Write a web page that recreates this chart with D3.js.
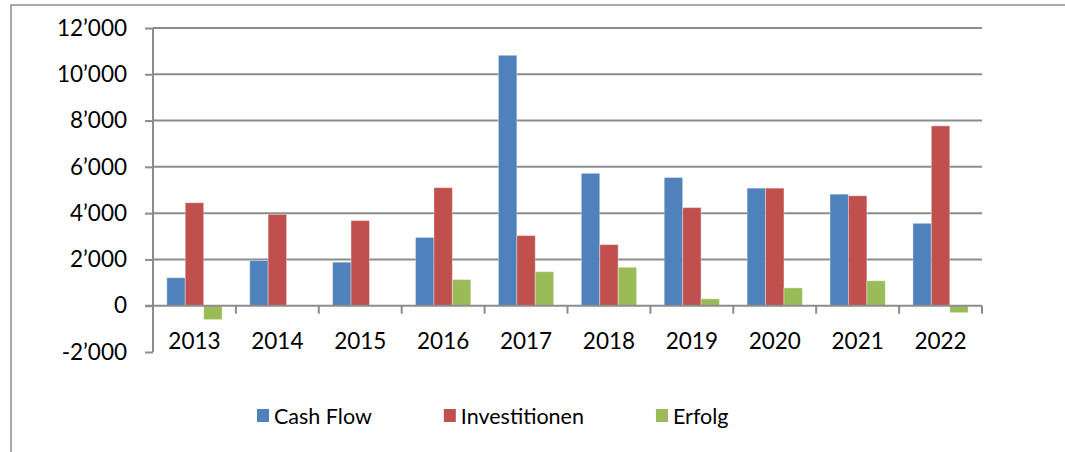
<!DOCTYPE html>
<html>
<head>
<meta charset="utf-8">
<script src="https://cdn.jsdelivr.net/npm/d3@7"></script>
<style>
  body { margin: 0; background: #fff; }
  svg { display: block; font-family: Lato, "Open Sans", sans-serif; }
</style>
</head>
<body>
<div id="chart"></div>
<script>
(function () {
    'use strict';
    var years = ["2013", "2014", "2015", "2016", "2017", "2018", "2019", "2020", "2021", "2022"],
        seriesNames = ["Cash Flow", "Investitionen", "Erfolg"],
        cashFlow = [1210, 1950, 1880, 2950, 10820, 5720, 5540, 5080, 4820, 3560],
        investitionen = [4450, 3950, 3680, 5100, 3030, 2640, 4240, 5080, 4750, 7770],
        erfolg = [-600, 0, 0, 1130, 1470, 1660, 300, 770, 1080, -300],
        yTicks = [-2000, 0, 2000, 4000, 6000, 8000, 10000, 12000],
        colors = ["#4f81bd", "#c0504d", "#9bbb59"],
        width = 1065, height = 452,
        svg, x, x1, y, fmt, rows, legend, lx;

    rows = years.map(function (yr, i) {
        return {year: yr, values: [cashFlow[i], investitionen[i], erfolg[i]]};
    });

    svg = d3.select("#chart").append("svg")
        .attr("width", width)
        .attr("height", height);

    // outer chart frame (runs off the right and bottom edge)
    svg.append("rect")
        .attr("x", 11).attr("y", 5)
        .attr("width", width + 20).attr("height", height + 20)
        .attr("fill", "none")
        .attr("stroke", "#8c8c8c")
        .attr("stroke-width", 1.5);

    x = d3.scaleBand().domain(years).range([153, 982]);
    x1 = d3.scaleBand().domain([0, 1, 2]).range([0, x.bandwidth()]).paddingOuter(0.75);
    y = d3.scaleLinear().domain([-2000, 12000]).range([352, 28]);

    fmt = d3.formatLocale({decimal: ".", thousands: "\u2019", grouping: [3],
        currency: ["", ""], minus: "-"}).format(",");

    // gridlines
    svg.append("g").selectAll("line")
        .data(yTicks.filter(function (d) { return d > 0; }))
        .enter().append("line")
        .attr("x1", 153).attr("x2", 982)
        .attr("y1", y).attr("y2", y)
        .attr("stroke", "#8c8c8c")
        .attr("stroke-width", 2);

    // y axis
    var yAxis = svg.append("g")
        .attr("transform", "translate(153,0)")
        .call(d3.axisLeft(y).tickValues(yTicks).tickSize(8).tickPadding(18).tickFormat(fmt));
    yAxis.selectAll("line, path").attr("stroke", "#8c8c8c").attr("stroke-width", 2);
    yAxis.select(".domain").attr("d", "M0," + y(-2000) + "V" + y(12000));
    yAxis.selectAll("text")
        .attr("fill", "#000")
        .style("font-size", "22.5px")
        .style("font-family", "Lato, sans-serif");

    // bars
    svg.append("g").selectAll("g")
        .data(rows)
        .enter().append("g")
        .attr("transform", function (d) { return "translate(" + x(d.year) + ",0)"; })
        .selectAll("rect")
        .data(function (d) { return d.values; })
        .enter().append("rect")
        .attr("x", function (d, i) { return x1(i); })
        .attr("width", x1.bandwidth())
        .attr("y", function (d) { return y(Math.max(0, d)); })
        .attr("height", function (d) { return Math.abs(y(d) - y(0)); })
        .attr("fill", function (d, i) { return colors[i]; })
        .attr("stroke", "rgba(255,255,255,0.35)")
        .attr("stroke-width", 1);

    // category axis at zero
    var xg = svg.append("g");
    xg.append("line")
        .attr("x1", 145).attr("x2", 982)
        .attr("y1", y(0)).attr("y2", y(0))
        .attr("stroke", "#8c8c8c").attr("stroke-width", 2);
    xg.selectAll("line.tick")
        .data(years.map(function (d) { return x(d); }).concat([x.range()[1]]))
        .enter().append("line")
        .attr("class", "tick")
        .attr("x1", function (d) { return d; }).attr("x2", function (d) { return d; })
        .attr("y1", y(0)).attr("y2", y(0) + 8)
        .attr("stroke", "#8c8c8c").attr("stroke-width", 2);
    xg.selectAll("text")
        .data(years)
        .enter().append("text")
        .attr("x", function (d) { return x(d) + x.bandwidth() / 2; })
        .attr("y", 341)
        .attr("dy", "0.35em")
        .attr("text-anchor", "middle")
        .style("font-size", "22.5px")
        .text(function (d) { return d; });

    // legend
    legend = svg.append("g");
    lx = 257;
    seriesNames.forEach(function (name, i) {
        var g = legend.append("g").attr("transform", "translate(" + lx + ",0)");
        g.append("rect")
            .attr("x", 0).attr("y", 409)
            .attr("width", 12).attr("height", 13)
            .attr("fill", colors[i]);
        var t = g.append("text")
            .attr("x", 17).attr("y", 416)
            .attr("dy", "0.36em")
            .style("font-size", "21.5px")
            .text(name);
        lx += 17 + t.node().getComputedTextLength() + 72;
    });
}());
</script>
</body>
</html>
